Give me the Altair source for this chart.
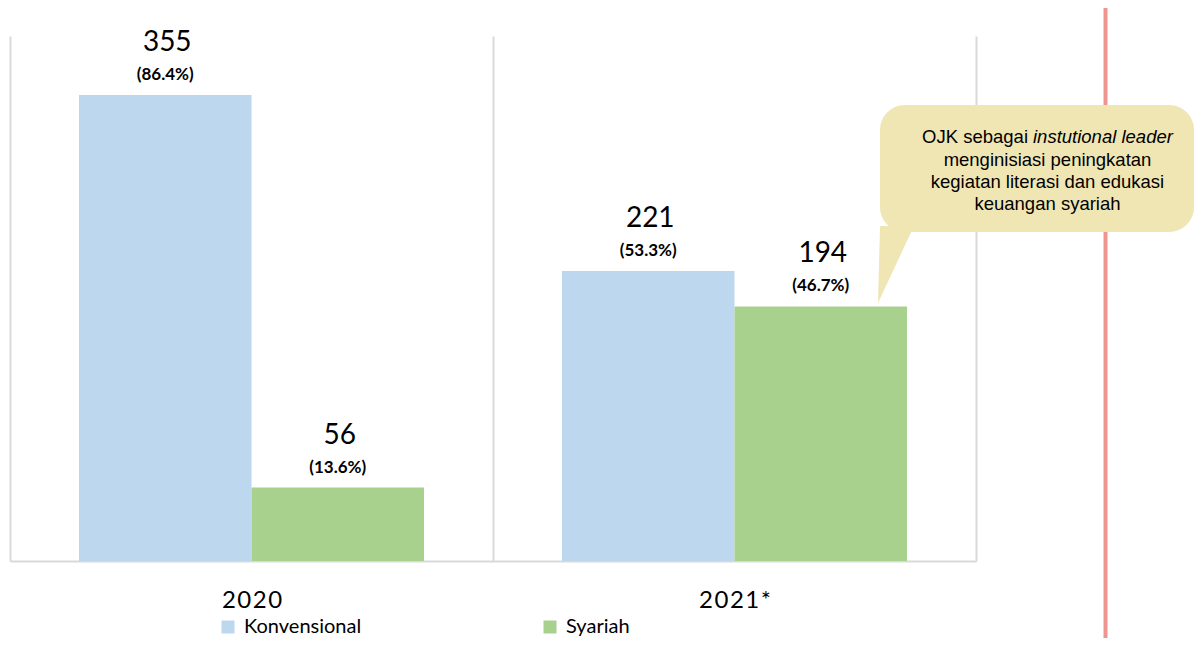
import altair as alt
import pandas as pd

# ---- data ----
years = ["2020", "2021*"]
series = ["Konvensional", "Syariah"]
konvensional = [355, 221]
syariah = [56, 194]
pct_konvensional = [86.4, 53.3]
pct_syariah = [13.6, 46.7]
colors = ["#BDD7EE", "#A9D18E"]

callout_first_normal = "OJK sebagai"
callout_first_italic = "instutional leader"
callout_rest = ["menginisiasi peningkatan", "kegiatan literasi dan edukasi", "keuangan syariah"]

rows = []
for i, yr in enumerate(years):
    rows.append(dict(year=yr, series=series[0], value=konvensional[i], pct=pct_konvensional[i]))
    rows.append(dict(year=yr, series=series[1], value=syariah[i], pct=pct_syariah[i]))
df = pd.DataFrame(rows)
df["num_label"] = df["value"].astype(str)
df["pct_label"] = df["pct"].map(lambda p: f"({p:.1f}%)")

HAIR = "\u200a"

x_enc = alt.X(
    "year:N",
    sort=years,
    scale=alt.Scale(paddingInner=0, paddingOuter=0),
    axis=alt.Axis(
        title=None,
        grid=True,
        tickBand="extent",
        ticks=False,
        domainColor="#D9D9D9",
        domainWidth=2,
        gridColor="#D9D9D9",
        gridWidth=2,
        labelFont="Lato",
        labelFontSize=24,
        labelColor="#000000",
        labelBaseline="alphabetic",
        labelPadding=46,
        labelAngle=0,
        labelExpr="join(split(datum.label, ''), '" + HAIR + "')",
    ),
)
xo_enc = alt.XOffset("series:N", sort=series, scale=alt.Scale(paddingInner=0, paddingOuter=0.4))
y_enc = alt.Y("value:Q", scale=alt.Scale(domain=[0, 400], nice=False), axis=None)

base = alt.Chart(df).encode(x=x_enc, xOffset=xo_enc, y=y_enc)

bars = base.mark_bar().encode(
    color=alt.Color(
        "series:N",
        sort=series,
        scale=alt.Scale(domain=series, range=colors),
        legend=alt.Legend(
            title=None,
            orient="none",
            legendX=208,
            legendY=581,
            direction="horizontal",
            symbolType="square",
            symbolSize=169,
            symbolStrokeWidth=0,
            labelFont="Lato",
            labelFontSize=20,
            labelColor="#000000",
            labelOffset=6,
            columnPadding=178,
        ),
    )
)

num_text = base.mark_text(
    font="Lato", fontSize=28, baseline="alphabetic", dy=-44, dx=2, color="#000000"
).encode(text="num_label:N")

pct_text = base.mark_text(
    font="Lato", fontSize=17, fontWeight="bold", baseline="alphabetic", dy=-15, color="#000000"
).encode(text="pct_label:N")

one = pd.DataFrame({"k": [0]})

red_line = alt.Chart(one).mark_rule(color="#EE9590", strokeWidth=4).encode(
    x=alt.value(1095.5), y=alt.value(-28), y2=alt.value(602)
)

bubble = alt.Chart(one).mark_rect(color="#F0E6B4", cornerRadius=25).encode(
    x=alt.value(870), x2=alt.value(1184), y=alt.value(69), y2=alt.value(196)
)

tail = alt.Chart(one).mark_point(
    shape="M -0.4615 1 L -0.41 -0.974 L 0.4615 -0.974 Z",
    filled=True,
    color="#F0E6B4",
    opacity=1,
    strokeWidth=0,
).encode(x=alt.value(886), y=alt.value(228), size=alt.value(6084))

c1 = alt.Chart(one).mark_text(
    text=callout_first_normal, font="Liberation Sans", fontSize=18.5,
    align="right", baseline="alphabetic", color="#000000"
).encode(x=alt.value(1018), y=alt.value(107.3))

c2 = alt.Chart(one).mark_text(
    text=callout_first_italic, font="Liberation Sans", fontSize=18.5, fontStyle="italic",
    align="left", baseline="alphabetic", color="#000000"
).encode(x=alt.value(1023), y=alt.value(107.3))

c3 = alt.Chart(one).mark_text(
    text=callout_rest, font="Liberation Sans", fontSize=18.5, lineHeight=22.2,
    align="center", baseline="alphabetic", color="#000000"
).encode(x=alt.value(1037.5), y=alt.value(129.5))

chart = alt.layer(
    bars, num_text, pct_text, red_line, bubble, tail, c1, c2, c3
).properties(
    width=966,
    height=525,
    autosize=alt.AutoSizeParams(type="none"),
    padding={"left": 2, "top": 28, "right": 218, "bottom": 77},
).configure_view(stroke=None)

chart.save("out.html", embed_options={"renderer": "svg", "actions": False})
